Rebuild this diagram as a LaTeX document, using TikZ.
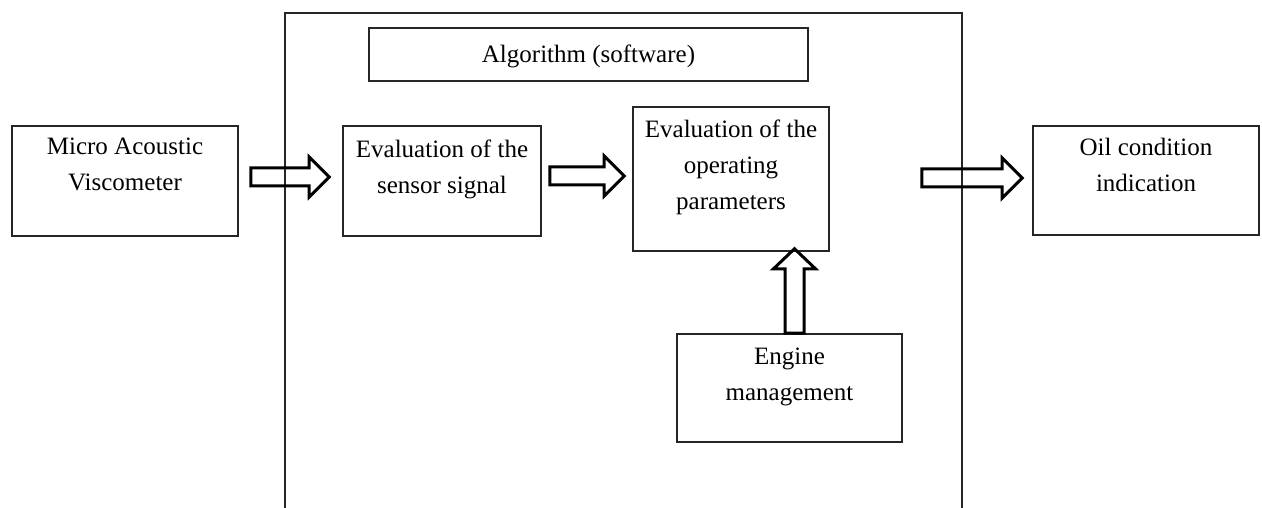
\documentclass[tikz,border=0pt]{standalone}
\usepackage{fontspec}
\setmainfont{Liberation Serif}
\usetikzlibrary{calc}
\tikzset{
  box/.style={draw=black!85, line width=1.6pt, inner sep=0pt},
  txt/.style={anchor=north, inner sep=0pt, align=center, font=\fontsize{25}{36}\selectfont},
  blockarr/.style={draw=black, line width=3pt, line join=miter},
  frame/.style={draw=black!85, line width=1.8pt}
}
\newcommand{\rightblock}[2]{%
  \draw[blockarr] ($(#1)+(0,-9)$) -- ($(#2)+(-20,-9)$) -- ($(#2)+(-20,-20)$) -- (#2)
    -- ($(#2)+(-20,20)$) -- ($(#2)+(-20,9)$) -- ($(#1)+(0,9)$) -- cycle;}
\newcommand{\upblock}[2]{%
  \draw[blockarr] ($(#1)+(-9.5,0)$) -- ($(#2)+(-9.5,20)$) -- ($(#2)+(-21,20)$) -- (#2)
    -- ($(#2)+(21,20)$) -- ($(#2)+(9.5,20)$) -- ($(#1)+(9.5,0)$) -- cycle;}
\begin{document}
\begin{tikzpicture}[x=1pt,y=-1pt]
\useasboundingbox (0,0) rectangle (1262,508);
% outer frame (open at the bottom)
\coordinate (fbl) at (285,508);
\coordinate (ftl) at (285,13);
\coordinate (ftr) at (962,13);
\coordinate (fbr) at (962,508);
\draw[frame] (fbl) -- (ftl) -- (ftr) -- (fbr);
% boxes
\node[box, minimum width=226pt, minimum height=110pt] (micro) at (125,181) {};
\node[box, minimum width=439pt, minimum height=53pt] (algo) at (588.5,54.5) {};
\node[box, minimum width=198pt, minimum height=110pt] (sensor) at (442,181) {};
\node[box, minimum width=196pt, minimum height=144pt] (oper) at (731,179) {};
\node[box, minimum width=226pt, minimum height=109pt] (oil) at (1146,180.5) {};
\node[box, minimum width=225pt, minimum height=108pt] (engine) at (789.5,388) {};
% texts
\node[txt] (tmicro) at (125,138) {Micro Acoustic\\Viscometer};
\node[txt] (talgo) at (588.5,45) {Algorithm (software)};
\node[txt] (tsensor) at (442,140) {Evaluation of the\\sensor signal};
\node[txt] (toper) at (731,120) {Evaluation of the\\operating\\parameters};
\node[txt] (toil) at (1146,138) {Oil condition\\indication};
\node[txt] (tengine) at (789.5,348) {Engine\\management};
% block arrows
\coordinate (a1s) at ($(micro.east)+(12,-4)$);
\coordinate (a1e) at ($(sensor.west)+(-13,-4)$);
\rightblock{a1s}{a1e}
\coordinate (a2s) at ($(sensor.east)+(8,-5)$);
\coordinate (a2e) at ($(oper.west)+(-8,-3)$);
\rightblock{a2s}{a2e}
\coordinate (a3s) at ($(oper.east)+(92,-1)$);
\coordinate (a3e) at ($(oil.west)+(-10,-2.5)$);
\rightblock{a3s}{a3e}
\coordinate (a4s) at ($(engine.north)+(5,0)$);
\coordinate (a4e) at ($(oper.south)+(63.5,-3)$);
\upblock{a4s}{a4e}
\end{tikzpicture}
\end{document}
